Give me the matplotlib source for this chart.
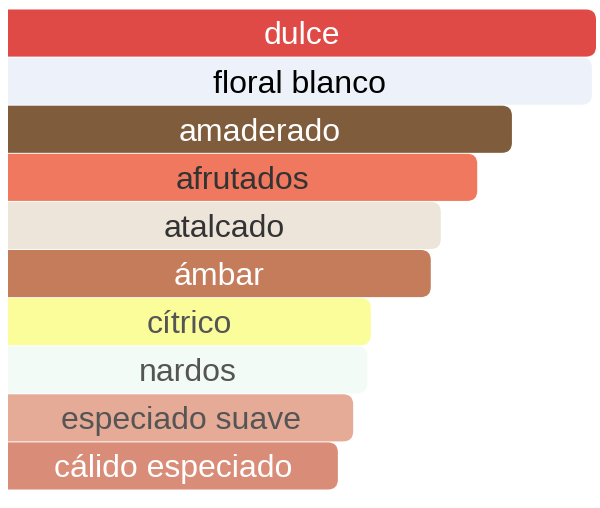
import matplotlib.pyplot as plt
from matplotlib.patches import FancyBboxPatch

labels = ["dulce", "floral blanco", "amaderado", "afrutados", "atalcado",
          "ámbar", "cítrico", "nardos", "especiado suave", "cálido especiado"]
values = [100, 99.3, 85.7, 79.8, 73.6, 71.9, 61.7, 61.1, 58.7, 56.1]
colors = ["#DF4A46", "#EDF1FA", "#7F5C3C", "#F0785E", "#EEE5DA",
          "#C47C5A", "#FAFD9A", "#F3FBF7", "#E5AB96", "#D98C77"]
text_colors = ["white", "black", "white", "#333333", "#333333",
               "white", "#555555", "#555555", "#555555", "white"]

W, H = 600, 508
fig = plt.figure(figsize=(W / 100, H / 100), dpi=100)
ax = fig.add_axes([8 / W, 18 / H, 588 / W, 481 / H])
ax.set_xlim(0, 100)
ax.set_ylim(len(labels) - 0.5, -0.5)
ax.axis("off")

px_x = 588 / 100   # pixels per x unit
px_y = 481 / len(labels)  # pixels per y unit
r = 10 / px_x

for i, (lab, v, c, tc) in enumerate(zip(labels, values, colors, text_colors)):
    box = FancyBboxPatch((-10, i - 0.49), v + 10, 0.98,
                         boxstyle=f"round,pad=0,rounding_size={r}",
                         mutation_aspect=px_x / px_y,
                         facecolor=c, edgecolor="none")
    ax.add_patch(box)
    ax.text(v / 2, i + 0.07, lab, ha="center", va="center", color=tc,
            fontsize=23, family="Liberation Sans")

fig.savefig("out.png", dpi=100)
